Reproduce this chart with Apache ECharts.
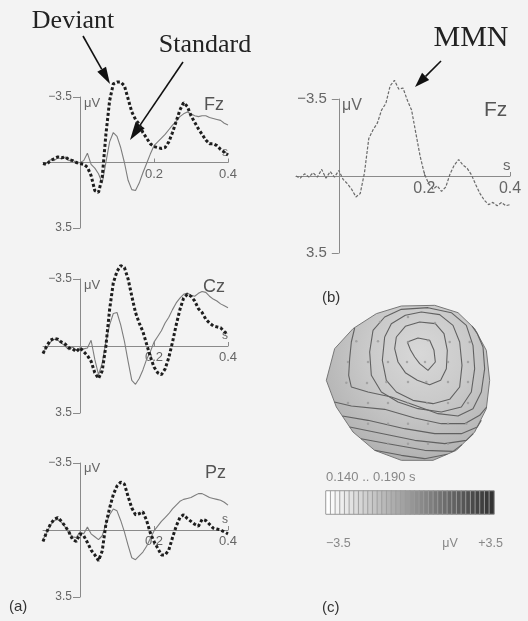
<!DOCTYPE html>
<html>
<head>
<meta charset="utf-8">
<script src="https://cdn.jsdelivr.net/npm/echarts@6/dist/echarts.min.js"></script>
<style>
  html, body { margin: 0; padding: 0; background: #f3f3f3; }
  #main { width: 528px; height: 621px; }
</style>
</head>
<body>
<div id="main"></div>
<script>
// time in s, 10 ms steps
var times = [-0.10,-0.09,-0.08,-0.07,-0.06,-0.05,-0.04,-0.03,-0.02,-0.01,
  0.00,0.01,0.02,0.03,0.04,0.05,0.06,0.07,0.08,0.09,
  0.10,0.11,0.12,0.13,0.14,0.15,0.16,0.17,0.18,0.19,
  0.20,0.21,0.22,0.23,0.24,0.25,0.26,0.27,0.28,0.29,
  0.30,0.31,0.32,0.33,0.34,0.35,0.36,0.37,0.38,0.39,0.40];

// amplitudes in µV (negative up)
var fzDeviant = [0.05,0.1,-0.1,-0.2,-0.3,-0.25,-0.3,-0.15,-0.1,0,
  0.05,0.1,0.25,0.7,1.5,1.6,0.8,-1.5,-3.3,-4.2,
  -4.3,-4.3,-4.1,-3.4,-2.7,-2.3,-2.05,-1.6,-1.3,-1.0,
  -0.85,-0.8,-0.75,-0.8,-1.1,-1.6,-2.2,-2.8,-3.2,-3.0,
  -2.5,-2.15,-1.8,-1.5,-1.2,-1.0,-1.0,-0.9,-0.7,-0.55,-0.4];
var fzStandard = [0.1,0.05,-0.15,-0.1,-0.25,-0.2,-0.3,-0.1,-0.15,0.05,
  0,-0.1,-0.5,0.1,0.3,0.6,1.1,0.0,-1.1,-1.6,
  -1.4,-0.8,0.0,0.95,1.45,1.5,1.1,0.55,0.05,-0.45,
  -0.9,-1.1,-1.3,-1.5,-1.75,-2.0,-2.2,-2.45,-2.6,-2.7,
  -2.6,-2.5,-2.45,-2.5,-2.5,-2.4,-2.35,-2.3,-2.25,-2.1,-2.0];
var czDeviant = [0.4,0.0,-0.3,-0.4,-0.35,-0.2,-0.1,0.1,0.15,0.3,
  0.1,0.3,0.5,0.8,1.4,1.7,1.3,0.0,-1.9,-3.3,
  -3.9,-4.2,-4.1,-3.5,-2.6,-1.75,-1.2,-0.75,-0.1,0.55,
  1.1,1.4,1.5,1.2,0.6,-0.2,-1.1,-1.9,-2.5,-2.7,
  -2.6,-2.35,-1.95,-1.75,-1.4,-1.2,-1.05,-1.0,-0.95,-0.75,-0.6];
var czStandard = [0.3,0.1,-0.2,-0.35,-0.3,-0.15,0.0,0.2,0.05,0.2,
  0.1,0.15,0.1,-0.3,0.7,1.5,0.9,-0.2,-1.1,-1.7,
  -1.75,-1.1,-0.25,0.8,1.8,2.0,1.7,1.25,0.7,0.3,
  -0.2,-0.5,-0.8,-1.2,-1.5,-1.9,-2.25,-2.5,-2.7,-2.77,
  -2.65,-2.6,-2.75,-2.85,-2.8,-2.6,-2.45,-2.35,-2.2,-2.1,-2.0];
var pzDeviant = [0.6,0.1,-0.3,-0.55,-0.65,-0.45,-0.2,0.1,0.5,0.6,
  0.2,0.3,0.65,1.05,1.3,1.6,1.1,-0.3,-1.15,-1.85,
  -2.3,-2.5,-2.4,-1.75,-1.15,-0.8,-0.85,-0.95,-0.5,0.15,
  0.6,0.95,1.3,1.3,1.05,0.4,-0.2,-0.65,-0.8,-0.6,
  -0.45,-0.3,-0.2,-0.55,-0.5,-0.3,-0.1,-0.05,0.0,0.1,0.2];
var pzStandard = [0.5,0.15,-0.25,-0.5,-0.55,-0.4,-0.15,0.15,0.35,0.4,
  0.1,0.2,-0.15,0.2,0.35,0.5,0.3,-0.3,-0.8,-1.1,
  -1.0,-0.5,0.1,0.8,1.45,1.55,1.35,1.15,0.85,0.45,
  0.05,-0.2,-0.45,-0.65,-0.85,-1.1,-1.3,-1.5,-1.6,-1.65,
  -1.7,-1.8,-1.9,-1.9,-1.8,-1.7,-1.65,-1.6,-1.55,-1.45,-1.3];
var fzMMN = [0.0,0.1,-0.1,0.05,-0.15,0.05,-0.3,0.1,-0.2,0.05,
  -0.25,0.15,0.35,0.6,0.95,0.8,-0.15,-1.7,-2.1,-2.4,
  -3.0,-3.3,-4.1,-4.35,-3.95,-4.0,-3.45,-3.0,-1.95,-0.9,
  -0.1,0.35,0.6,0.45,0.7,0.5,-0.1,-0.5,-0.75,-0.5,
  -0.35,-0.05,0.4,0.8,1.1,1.3,1.2,1.35,1.2,1.35,1.3];

var timeTicks = [0.2, 0.4];
var ampTicks = [-3.5, 3.5];

// scalp map, map units (x right, y down)
var headOutline = [[105,110],[175,65],[250,42],[350,40],[420,62],[470,110],[505,175],[515,265],
  [505,350],[470,420],[415,475],[345,505],[250,505],[170,475],[105,420],[55,345],[25,265],[50,170]];
var contours = [
  [[268,150],[300,138],[335,145],[348,175],[352,210],[330,235],[305,215],[290,195],[278,175],[268,150]],
  [[235,135],[262,103],[305,90],[352,95],[378,125],[388,175],[385,230],[368,265],[335,278],[298,265],[262,242],[240,210],[230,170],[235,135]],
  [[200,135],[220,95],[262,70],[310,60],[365,68],[405,100],[425,150],[432,220],[425,285],[395,322],[345,335],[285,325],[235,300],[205,265],[193,205],[200,135]],
  [[165,115],[200,75],[250,52],[330,47],[400,62],[445,100],[465,160],[470,230],[460,300],[430,345],[370,360],[300,350],[240,330],[190,300],[160,250],[155,180],[165,115]],
  [[110,108],[100,150],[95,200],[92,250],[100,285],[150,300],[220,315],[290,340],[360,365],[420,372],[465,350],[490,300],[500,230],[495,165],[478,125],[462,102]],
  [[49,330],[100,342],[200,352],[290,378],[370,395],[440,395],[485,370],[506,345]],
  [[73,372],[150,385],[260,410],[350,425],[430,425],[478,405],[490,385]],
  [[95,405],[180,422],[290,445],[380,455],[445,445],[466,425]],
  [[129,440],[210,455],[320,475],[405,478],[432,458]],
  [[170,475],[250,490],[320,500],[388,487]]
];
var electrodes = [[186,90],[270,75],[351,93],
  [115,148],[180,148],[270,150],[330,145],[395,150],[455,150],
  [90,210],[150,210],[210,210],[267,210],[321,210],[390,210],[450,210],
  [85,272],[147,273],[205,270],[270,270],[325,270],[390,270],[450,270],
  [90,333],[150,333],[210,333],[270,333],[327,333],[390,333],[450,333],
  [150,395],[210,395],[270,395],[330,395],[390,395],[445,395],
  [210,455],[270,455],[330,455],[390,455]];

// colour scale cells
var barLevels = [-3.5,-3.3,-3.1,-2.9,-2.7,-2.5,-2.3,-2.1,-1.9,-1.7,-1.5,-1.3,-1.1,-0.9,-0.7,-0.5,-0.3,-0.1,
  0.1,0.3,0.5,0.7,0.9,1.1,1.3,1.5,1.7,1.9,2.1,2.3,2.5,2.7,2.9,3.1,3.3,3.5];

var SANS = '"Liberation Sans", Arial, sans-serif';
var SERIF = '"Liberation Serif", "Times New Roman", serif';
var AXIS = '#8a8a8a';

function pairs(vals) {
  return times.map(function (t, i) { return [t, vals[i]]; });
}

// axes cross at (0 s, 0 µV): shift them into the grid with offset
function waveX(i, fs, shift) {
  return {
    type: 'value', gridIndex: i, min: -0.1, max: 0.4, position: 'bottom', offset: -shift,
    axisLine: { onZero: false, lineStyle: { color: AXIS, width: 1 } },
    axisTick: { show: true, inside: true, length: 4, customValues: timeTicks, lineStyle: { color: AXIS } },
    axisLabel: { customValues: timeTicks, color: '#666', fontSize: fs, fontFamily: SANS, margin: 5 },
    splitLine: { show: false }
  };
}
function waveY(i, fs, shift, gap) {
  return {
    type: 'value', gridIndex: i, inverse: true, min: -3.5, max: 3.5, position: 'left', offset: -shift,
    axisLine: { onZero: false, lineStyle: { color: AXIS, width: 1 } },
    axisTick: { show: true, length: 7, customValues: ampTicks, lineStyle: { color: AXIS } },
    axisLabel: {
      customValues: ampTicks, color: '#666', fontSize: fs, fontFamily: SANS, margin: gap,
      formatter: function (v) { return v < 0 ? '\u22123.5' : '3.5'; }
    },
    splitLine: { show: false }
  };
}
function deviant(i, vals) {
  return { type: 'line', xAxisIndex: i, yAxisIndex: i, data: pairs(vals), symbol: 'none', clip: false,
    lineStyle: { color: '#1e1e1e', width: 3, type: [3, 2.2], cap: 'butt' }, z: 4 };
}
function standard(i, vals) {
  return { type: 'line', xAxisIndex: i, yAxisIndex: i, data: pairs(vals), symbol: 'none', clip: false,
    lineStyle: { color: '#7d7d7d', width: 1.1 }, z: 3 };
}

var series = [
  deviant(0, fzDeviant), standard(0, fzStandard),
  deviant(1, czDeviant), standard(1, czStandard),
  deviant(2, pzDeviant), standard(2, pzStandard),
  { type: 'line', xAxisIndex: 3, yAxisIndex: 3, data: pairs(fzMMN), symbol: 'none', clip: false,
    lineStyle: { color: '#6a6a6a', width: 1.2, type: [3, 1.6] } },
  { type: 'custom', xAxisIndex: 4, yAxisIndex: 4, data: [[270, 270]], silent: true, clip: false, z: 1,
    renderItem: function (params, api) {
      return {
        type: 'polygon',
        shape: { points: headOutline.map(function (p) { return api.coord(p); }) },
        style: {
          fill: new echarts.graphic.RadialGradient(0.57, 0.31, 0.85, [
            { offset: 0, color: '#d8d8d8' }, { offset: 0.4, color: '#c9c9c9' },
            { offset: 0.75, color: '#b6b6b6' }, { offset: 1, color: '#a0a0a0' }]),
          stroke: '#777', lineWidth: 1
        }
      };
    } }
];
contours.forEach(function (c) {
  series.push({ type: 'line', xAxisIndex: 4, yAxisIndex: 4, data: c, symbol: 'none', silent: true,
    lineStyle: { color: '#616161', width: 1.1 }, z: 3 });
});
series.push({ type: 'scatter', xAxisIndex: 4, yAxisIndex: 4, data: electrodes, symbolSize: 2.5,
  silent: true, itemStyle: { color: '#9a9a9a' }, z: 4 });
var barSeriesIndex = series.length;
series.push({ type: 'heatmap', xAxisIndex: 5, yAxisIndex: 5, silent: true,
  data: barLevels.map(function (v, i) { return [i, 0, v]; }),
  itemStyle: { borderColor: '#9c9c9c', borderWidth: 0.9 } });

function arrow(x1, y1, x2, y2, head, half) {
  var a = Math.atan2(y2 - y1, x2 - x1);
  var bx = x2 - head * Math.cos(a), by = y2 - head * Math.sin(a);
  var px = -Math.sin(a) * half, py = Math.cos(a) * half;
  return [
    { type: 'line', shape: { x1: x1, y1: y1, x2: bx, y2: by }, style: { stroke: '#111', lineWidth: 1.6 } },
    { type: 'polygon', shape: { points: [[x2, y2], [bx + px, by + py], [bx - px, by - py]] }, style: { fill: '#111' } }
  ];
}
function label(text, x, y, size, opts) {
  opts = opts || {};
  return { type: 'text', x: x, y: y, style: {
    text: text, fontSize: size, fontFamily: opts.font || SANS, fill: opts.color || '#555',
    align: opts.align || 'left', verticalAlign: 'middle' } };
}

var graphics = [
  label('Deviant', 73, 21, 26, { font: SERIF, color: '#222', align: 'center' }),
  label('Standard', 205, 45, 26, { font: SERIF, color: '#222', align: 'center' }),
  label('MMN', 471, 38, 30, { font: SERIF, color: '#222', align: 'center' }),
  label('Fz', 204, 105, 18), label('Cz', 203, 287, 18), label('Pz', 205, 473, 18),
  label('Fz', 484, 110, 21),
  label('\u03bcV', 84, 103, 13, { color: '#666' }), label('\u03bcV', 84, 285, 13, { color: '#666' }),
  label('\u03bcV', 84, 468, 13, { color: '#666' }), label('\u03bcV', 342, 106, 16, { color: '#666' }),
  label('s', 222, 153, 12, { color: '#666' }), label('s', 222, 336, 12, { color: '#666' }),
  label('s', 222, 520, 12, { color: '#666' }), label('s', 503, 166, 15, { color: '#666' }),
  label('(a)', 9, 607, 15, { color: '#333' }), label('(b)', 322, 298, 15, { color: '#333' }),
  label('(c)', 322, 608, 15, { color: '#333' }),
  label('0.140 .. 0.190 s', 326, 477, 13, { color: '#888' }),
  label('\u22123.5', 326, 544, 12.5, { color: '#888' }),
  label('\u03bcV', 450, 544, 12.5, { color: '#888', align: 'center' }),
  label('+3.5', 503, 544, 12.5, { color: '#888', align: 'right' })
].concat(arrow(83, 36, 110, 84, 17, 5), arrow(183, 62, 130, 140, 18, 5.5), arrow(441, 61, 415, 87, 15, 5));

var myChart = echarts.init(document.getElementById('main'));
var option = {
  backgroundColor: '#f3f3f3',
  animation: false,
  grid: [
    { left: 43, top: 97, width: 185, height: 131 },
    { left: 43, top: 279, width: 185, height: 134 },
    { left: 43, top: 463, width: 185, height: 134 },
    { left: 296, top: 99, width: 214, height: 154 },
    { left: 318, top: 292, width: 180, height: 178 },
    { left: 326, top: 491, width: 168, height: 23, show: true, borderColor: '#8a8a8a', borderWidth: 1 }
  ],
  xAxis: [
    waveX(0, 13, 65.5), waveX(1, 13, 67), waveX(2, 13, 67), waveX(3, 16, 77),
    { type: 'value', gridIndex: 4, min: 0, max: 540, show: false },
    { type: 'category', gridIndex: 5, data: barLevels.map(String), show: false }
  ],
  yAxis: [
    waveY(0, 12, 37, 8), waveY(1, 12, 37, 8), waveY(2, 12, 37, 8), waveY(3, 15, 42.8, 12),
    { type: 'value', gridIndex: 4, min: 0, max: 534, inverse: true, show: false },
    { type: 'category', gridIndex: 5, data: ['\u03bcV'], show: false }
  ],
  visualMap: {
    show: false, type: 'continuous', min: -3.5, max: 3.5, seriesIndex: barSeriesIndex, dimension: 2,
    inRange: { color: ['#ffffff', '#333333'] }
  },
  graphic: graphics,
  series: series
};
myChart.setOption(option);
</script>
</body>
</html>
